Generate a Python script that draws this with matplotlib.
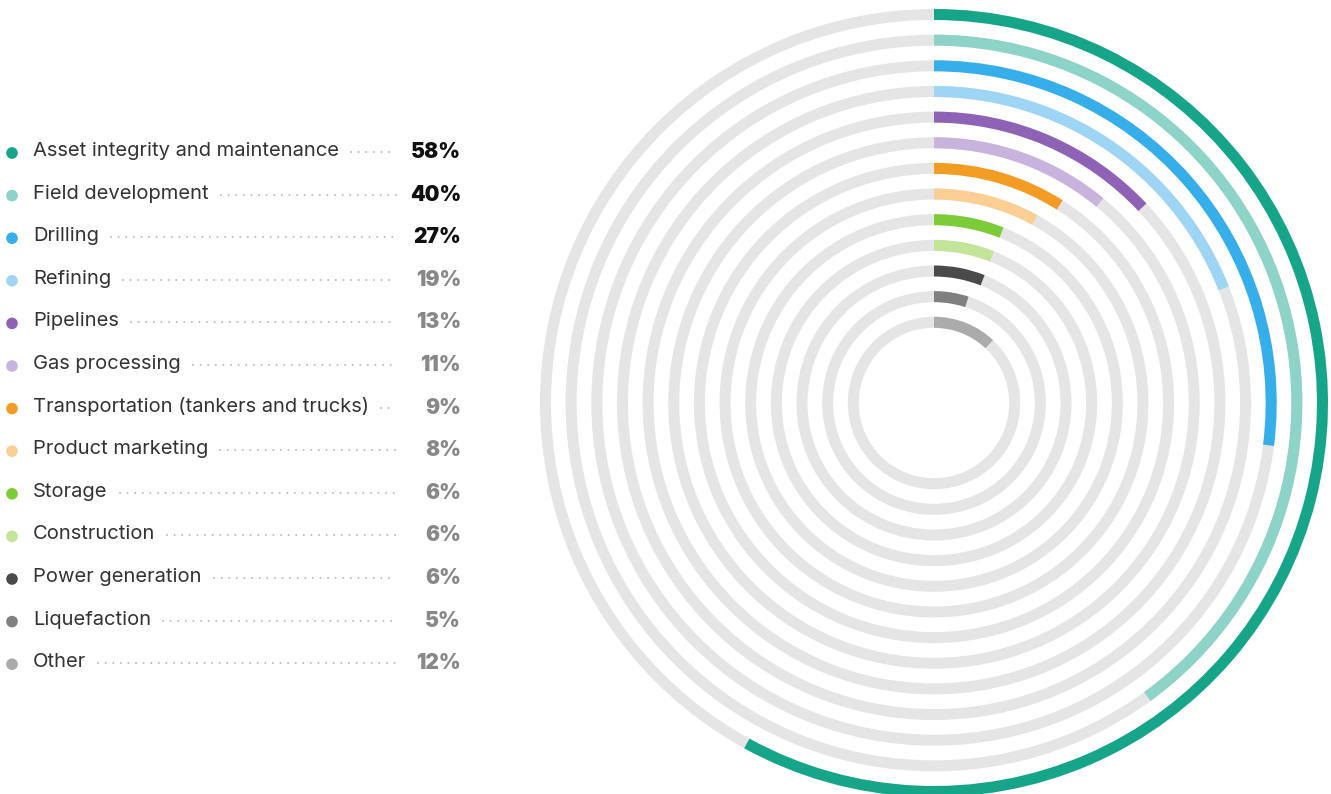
import matplotlib
matplotlib.use("Agg")
import matplotlib.pyplot as plt
from matplotlib.patches import Wedge

categories = [
    "Asset integrity and maintenance", "Field development", "Drilling",
    "Refining", "Pipelines", "Gas processing",
    "Transportation (tankers and trucks)", "Product marketing", "Storage",
    "Construction", "Power generation", "Liquefaction", "Other",
]
values = [58, 40, 27, 19, 13, 11, 9, 8, 6, 6, 6, 5, 12]
colors = [
    "#17a58a", "#8dd3c7", "#36aeea", "#9ed5f5", "#8e63b5", "#c7b3dd",
    "#f39c24", "#fbcf93", "#7ccb38", "#c2e59a", "#4a4a4a", "#808080", "#ababab",
]
bold_black = 3  # first three percentages in black

W, H = 1331, 794
fig = plt.figure(figsize=(W / 100, H / 100), dpi=100)
ax = fig.add_axes([0, 0, 1, 1])
ax.set_xlim(0, W)
ax.set_ylim(H, 0)
ax.axis("off")

# rings
cx, cy = 934, 403
r_out = 394
step = 25.65
band = 11
for i, (v, c) in enumerate(zip(values, colors)):
    r = r_out - i * step
    ax.add_patch(Wedge((cx, cy), r, 0, 360, width=band, facecolor="#e5e5e5", edgecolor="none"))
    # y axis inverted: angles run clockwise on screen
    ax.add_patch(Wedge((cx, cy), r, -90, -90 + v * 3.6, width=band, facecolor=c, edgecolor="none"))

# legend
y0, dy = 151, 42.6
renderer = fig.canvas.get_renderer()
for i, (lab, v, c) in enumerate(zip(categories, values, colors)):
    y = y0 + i * dy
    ax.scatter([12], [y + 2], s=70, color=c, edgecolors="none")
    t = ax.text(33, y, lab, fontsize=14.5, family="Inter", color="#333333",
                va="center", ha="left")
    ax.text(461, y + 1, f"{v}%", fontsize=15, family="Inter", fontweight="black",
            color="#111111" if i < bold_black else "#888888", va="center", ha="right")
    bb = t.get_window_extent(renderer=renderer)
    x_end = ax.transData.inverted().transform((bb.x1, 0))[0]
    ax.plot([x_end + 12, 396], [y + 1, y + 1], color="#b5b5b5", lw=1.4,
            linestyle=(0, (0.01, 3.9)), dash_capstyle="round", solid_capstyle="round")

fig.savefig("out.png", dpi=100)
